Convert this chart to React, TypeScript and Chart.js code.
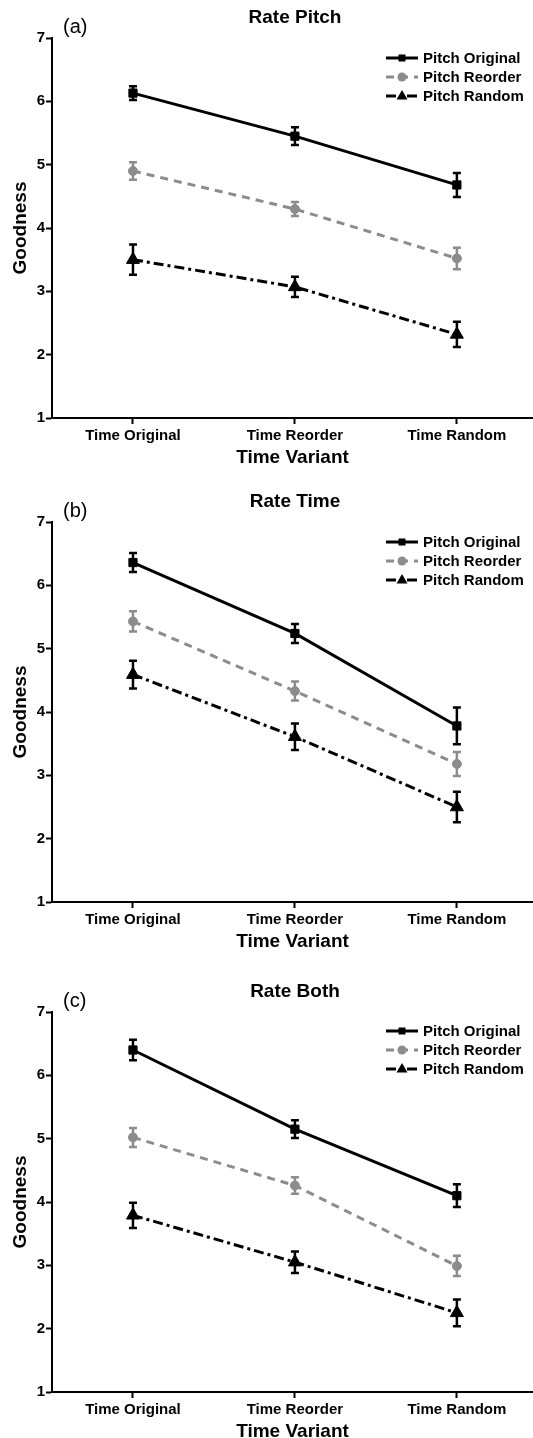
import React, { useEffect, useRef } from 'react';
import { Chart, registerables } from 'chart.js';

Chart.register(...registerables);

const FONT = '"Liberation Sans", Arial, Helvetica, sans-serif';
Chart.defaults.font.family = FONT;
Chart.defaults.color = '#000';

// ---------- text / categories ----------
const categories = ['Time Original', 'Time Reorder', 'Time Random'];
const seriesNames = ['Pitch Original', 'Pitch Reorder', 'Pitch Random'];
const yTickValues = [1, 2, 3, 4, 5, 6, 7];
const panelLetters = ['(a)', '(b)', '(c)'];
const panelTitles = ['Rate Pitch', 'Rate Time', 'Rate Both'];
const xAxisTitle = 'Time Variant';
const yAxisTitle = 'Goodness';

// ---------- (a) Rate Pitch ----------
const ratePitchOriginal = [6.13, 5.45, 4.68];
const ratePitchOriginalErr = [0.11, 0.14, 0.19];
const ratePitchReorder = [4.9, 4.3, 3.52];
const ratePitchReorderErr = [0.14, 0.11, 0.17];
const ratePitchRandom = [3.5, 3.07, 2.32];
const ratePitchRandomErr = [0.24, 0.16, 0.2];

// ---------- (b) Rate Time ----------
const rateTimeOriginal = [6.36, 5.24, 3.78];
const rateTimeOriginalErr = [0.15, 0.15, 0.29];
const rateTimeReorder = [5.43, 4.33, 3.18];
const rateTimeReorderErr = [0.16, 0.15, 0.19];
const rateTimeRandom = [4.59, 3.61, 2.5];
const rateTimeRandomErr = [0.22, 0.21, 0.24];

// ---------- (c) Rate Both ----------
const rateBothOriginal = [6.4, 5.15, 4.1];
const rateBothOriginalErr = [0.16, 0.14, 0.18];
const rateBothReorder = [5.02, 4.26, 2.99];
const rateBothReorderErr = [0.15, 0.13, 0.16];
const rateBothRandom = [3.79, 3.05, 2.25];
const rateBothRandomErr = [0.2, 0.17, 0.21];

const panelValues = [
  [ratePitchOriginal, ratePitchReorder, ratePitchRandom],
  [rateTimeOriginal, rateTimeReorder, rateTimeRandom],
  [rateBothOriginal, rateBothReorder, rateBothRandom],
];
const panelErrors = [
  [ratePitchOriginalErr, ratePitchReorderErr, ratePitchRandomErr],
  [rateTimeOriginalErr, rateTimeReorderErr, rateTimeRandomErr],
  [rateBothOriginalErr, rateBothReorderErr, rateBothRandomErr],
];

// ---------- styles ----------
const seriesColors = ['#000000', '#8c8c8c', '#000000'];
const seriesDashes: number[][] = [[], [8, 6], [10, 4, 3, 4]];
const seriesPointStyles = ['rect', 'circle', 'triangle'];
const seriesPointRadius = [5.8, 4.5, 7.5];

const CANVAS_W = 533;
const CANVAS_H = 470;
const AREA_TOP = 38;
const AREA_BOTTOM = 418;
const Y_AXIS_W = 52;

const errorBarPlugin = {
  id: 'errorBars',
  afterDatasetsDraw(chart: any) {
    const ctx = chart.ctx;
    const yScale = chart.scales.y;
    chart.data.datasets.forEach((ds: any, di: number) => {
      const meta = chart.getDatasetMeta(di);
      const errs: number[] = ds.errorBars || [];
      ctx.save();
      ctx.strokeStyle = ds.borderColor;
      ctx.lineWidth = 2.5;
      ctx.setLineDash([]);
      meta.data.forEach((pt: any, j: number) => {
        const v = ds.data[j].y;
        const e = errs[j] || 0;
        const x = pt.x;
        const yt = yScale.getPixelForValue(v + e);
        const yb = yScale.getPixelForValue(v - e);
        ctx.beginPath();
        ctx.moveTo(x, yt);
        ctx.lineTo(x, yb);
        ctx.moveTo(x - 4, yt);
        ctx.lineTo(x + 4, yt);
        ctx.moveTo(x - 4, yb);
        ctx.lineTo(x + 4, yb);
        ctx.stroke();
      });
      ctx.restore();
    });
  },
};

function drawLegendMarker(ctx: CanvasRenderingContext2D, style: string, x: number, y: number, color: string) {
  ctx.fillStyle = color;
  ctx.beginPath();
  if (style === 'rect') {
    ctx.rect(x - 3.5, y - 3.5, 7, 7);
  } else if (style === 'circle') {
    ctx.arc(x, y, 4.5, 0, Math.PI * 2);
  } else {
    ctx.moveTo(x, y - 6);
    ctx.lineTo(x + 5.5, y + 3.5);
    ctx.lineTo(x - 5.5, y + 3.5);
    ctx.closePath();
  }
  ctx.fill();
}

function makeDecorPlugin(idx: number) {
  return {
    id: 'decor' + idx,
    afterDraw(chart: any) {
      const ctx: CanvasRenderingContext2D = chart.ctx;
      ctx.save();
      // panel letter
      ctx.fillStyle = '#000';
      ctx.font = `20px ${FONT}`;
      ctx.textAlign = 'left';
      ctx.textBaseline = 'middle';
      ctx.fillText(panelLetters[idx], 63, 27);
      // title
      ctx.font = `bold 19px ${FONT}`;
      ctx.textAlign = 'center';
      ctx.fillText(panelTitles[idx], 295, 18);
      // legend
      const legendY0 = idx === 2 ? 57 : 58;
      chart.data.datasets.forEach((ds: any, s: number) => {
        const y = legendY0 + s * 19;
        ctx.strokeStyle = ds.borderColor;
        ctx.lineWidth = 3;
        ctx.setLineDash(ds.borderDash || []);
        ctx.beginPath();
        ctx.moveTo(386, y);
        ctx.lineTo(418, y);
        ctx.stroke();
        ctx.setLineDash([]);
        drawLegendMarker(ctx, seriesPointStyles[s], 402, y, ds.borderColor);
        ctx.fillStyle = '#000';
        ctx.font = `bold 15px ${FONT}`;
        ctx.textAlign = 'left';
        ctx.textBaseline = 'middle';
        ctx.fillText(ds.label, 423, y + 1);
      });
      ctx.restore();
    },
  };
}

function Panel({ idx, top }: { idx: number; top: number }) {
  const ref = useRef<HTMLCanvasElement>(null);
  useEffect(() => {
    const canvas = ref.current;
    if (!canvas) return;
    const values = panelValues[idx];
    const errors = panelErrors[idx];
    const chart = new Chart(canvas, {
      type: 'line',
      data: {
        datasets: seriesNames.map((name, s) => ({
          label: name,
          data: values[s].map((v, i) => ({ x: i, y: v })),
          errorBars: errors[s],
          borderColor: seriesColors[s],
          backgroundColor: seriesColors[s],
          pointBackgroundColor: seriesColors[s],
          pointBorderColor: seriesColors[s],
          pointBorderWidth: 1,
          borderWidth: 3,
          borderDash: seriesDashes[s],
          pointStyle: seriesPointStyles[s],
          pointRadius: seriesPointRadius[s],
          tension: 0,
          fill: false,
        })) as any,
      },
      options: {
        animation: false,
        responsive: false,
        maintainAspectRatio: false,
        layout: { autoPadding: false, padding: { top: AREA_TOP, left: 0, right: 0, bottom: 0 } },
        plugins: {
          legend: { display: false },
          title: { display: false },
          tooltip: { enabled: false },
        },
        scales: {
          x: {
            type: 'linear',
            min: -0.5,
            max: 2.47,
            afterBuildTicks: (scale: any) => {
              scale.ticks = categories.map((_, i) => ({ value: i }));
            },
            afterFit: (scale: any) => {
              scale.height = CANVAS_H - AREA_BOTTOM;
              scale.paddingLeft = 0;
              scale.paddingRight = 0;
            },
            ticks: {
              autoSkip: false,
              maxRotation: 0,
              padding: 3,
              color: '#000',
              font: { size: 15, weight: 'bold' },
              callback: (v: any) => categories[Math.round(Number(v))] ?? '',
            },
            grid: {
              display: true,
              drawOnChartArea: false,
              drawTicks: true,
              tickLength: 6,
              tickWidth: 2,
              tickColor: '#000',
            },
            border: { display: true, color: '#000', width: 2 },
            title: {
              display: true,
              text: xAxisTitle,
              color: '#000',
              font: { size: 19, weight: 'bold' },
              padding: { top: 0, bottom: 1 },
            },
          },
          y: {
            type: 'linear',
            min: 1,
            max: 7,
            afterBuildTicks: (scale: any) => {
              scale.ticks = yTickValues.map((v) => ({ value: v }));
            },
            afterFit: (scale: any) => {
              scale.width = Y_AXIS_W;
              scale.paddingTop = 0;
              scale.paddingBottom = 0;
            },
            ticks: {
              padding: 1,
              color: '#000',
              font: { size: 15, weight: 'bold' },
              callback: (v: any) => String(v),
            },
            grid: {
              display: true,
              drawOnChartArea: false,
              drawTicks: true,
              tickLength: 6,
              tickWidth: 2,
              tickColor: '#000',
            },
            border: { display: true, color: '#000', width: 2 },
            title: {
              display: true,
              text: yAxisTitle,
              color: '#000',
              font: { size: 19, weight: 'bold' },
              padding: { top: 9, bottom: 0 },
            },
          },
        },
      } as any,
      plugins: [errorBarPlugin, makeDecorPlugin(idx)],
    });
    return () => chart.destroy();
  }, [idx]);
  return (
    <canvas
      ref={ref}
      width={CANVAS_W}
      height={CANVAS_H}
      style={{ position: 'absolute', left: 0, top, width: CANVAS_W, height: CANVAS_H }}
    />
  );
}

export default function App() {
  return (
    <div
      style={{
        position: 'absolute',
        left: 0,
        top: 0,
        width: 533,
        height: 1438,
        overflow: 'hidden',
        background: '#ffffff',
      }}
    >
      <Panel idx={0} top={0} />
      <Panel idx={1} top={484} />
      <Panel idx={2} top={974} />
    </div>
  );
}
